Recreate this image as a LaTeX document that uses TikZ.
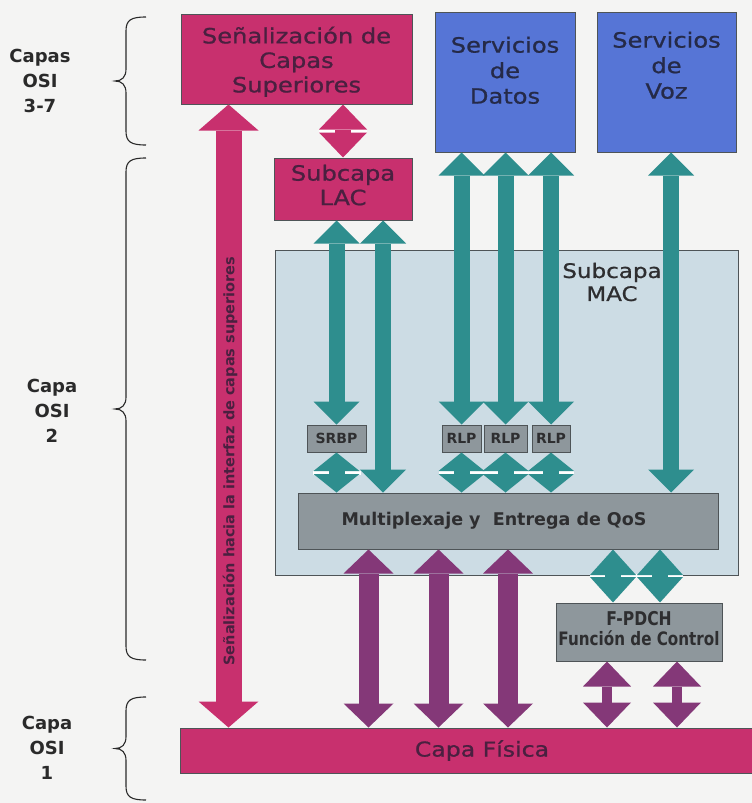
\documentclass[tikz,border=0pt]{standalone}
\usepackage{fontspec}
\setmainfont{DejaVu Sans}
\newfontfamily\condf{DejaVu Sans}[FakeStretch=0.82]
\newfontfamily\widef{DejaVu Sans}[FakeStretch=1.15,FakeBold=0.9]
\usetikzlibrary{arrows.meta,calc}
\definecolor{bg}{HTML}{F4F4F3}
\definecolor{pinkc}{HTML}{C8306E}
\definecolor{bluec}{HTML}{5675D6}
\definecolor{tealc}{HTML}{2E8E8E}
\definecolor{purc}{HTML}{843878}
\definecolor{grayc}{HTML}{8E979C}
\definecolor{macc}{HTML}{CCDCE4}
\definecolor{edgec}{HTML}{4E5457}
\definecolor{pinktxt}{HTML}{4A2040}
\definecolor{bluetxt}{HTML}{252A48}
\definecolor{graytxt}{HTML}{2E2E30}
\definecolor{labtxt}{HTML}{2A2A2A}
\newcommand\upby[2]{\raisebox{#1}[\height][\depth]{\begin{tabular}{@{}c@{}}#2\end{tabular}}}
\newcommand\osibrace[2]{%
  \pgfmathsetmacro\ym{(#1+#2)/2}%
  \draw[bracel] (146,#1) .. controls (131,#1) and (126,#1+3) .. (126,#1+14)
    -- (126,\ym-12) .. controls (126,\ym-4) and (122,\ym) .. (115,\ym)
    .. controls (122,\ym) and (126,\ym+4) .. (126,\ym+12)
    -- (126,#2-14) .. controls (126,#2-3) and (131,#2) .. (146,#2);}
\tikzset{
  box/.style={draw=edgec, line width=1pt, inner sep=0pt, align=center},
  pinkbox/.style={box, fill=pinkc, text=pinktxt, font=\widef\fontsize{21}{24.5}\selectfont},
  bluebox/.style={box, fill=bluec, text=bluetxt, font=\widef\fontsize{21}{25.5}\selectfont},
  graybox/.style={box, fill=grayc, text=graytxt},
  smallbox/.style={graybox, minimum height=27, font=\bfseries\fontsize{14}{16}\selectfont},
  osilab/.style={align=center, text=labtxt, font=\bfseries\fontsize{18}{25}\selectfont},
  bracel/.style={draw=labtxt, line width=1.1pt},
  gapline/.style={draw=white, line width=4pt},
  tarrow/.style={draw=tealc, line width=16pt,
    arrows={Triangle[width=46pt,length=#1,line width=0pt]-Triangle[width=46pt,length=#1,line width=0pt]}},
  tarrow/.default=23pt,
  parrow/.style={draw=purc, line width=20pt,
    arrows={Triangle[width=50pt,length=24pt,line width=0pt]-Triangle[width=50pt,length=24pt,line width=0pt]}},
  psarrow/.style={draw=purc, line width=10pt,
    arrows={Triangle[width=48pt,length=25pt,line width=0pt]-Triangle[width=48pt,length=25pt,line width=0pt]}},
  pkarrow/.style={draw=pinkc, line width=#1,
    arrows={Triangle[width=60pt,length=26pt,line width=0pt]-Triangle[width=60pt,length=26pt,line width=0pt]}},
}
\begin{document}
\begin{tikzpicture}[x=1pt,y=-1pt]
\fill[bg] (0,0) rectangle (752,803);
\useasboundingbox (0,0) rectangle (752,803);

% left labels and braces
\node[osilab] (l1) at (40,81) {Capas\\OSI\\3-7};
\node[osilab] (l2) at (52,411) {Capa\\OSI\\2};
\node[osilab] (l3) at (47,748) {Capa\\OSI\\1};
\osibrace{17}{145}
\osibrace{158}{660}
\osibrace{697}{800}

% MAC sublayer region
\node[box, fill=macc, minimum width=463, minimum height=325] (mac) at (506.5,412.5) {};
\node[text=graytxt, font=\widef\fontsize{20}{23}\selectfont, align=center] (mact) at (612,282) {Subcapa\\MAC};

% boxes
\node[pinkbox, minimum width=231, minimum height=90] (sen) at (296.5,59) {\upby{-4pt}{Señalización de\\Capas\\Superiores}};
\node[bluebox, minimum width=140, minimum height=140] (datos) at (505,82) {\upby{9pt}{Servicios\\de\\Datos}};
\node[bluebox, minimum width=139, minimum height=140] (voz) at (666.5,82) {\upby{14pt}{Servicios\\de\\Voz}};
\node[pinkbox, minimum width=138, minimum height=62] (lac) at (343,189) {\upby{1pt}{Subcapa\\LAC}};
\node[smallbox, minimum width=59] (srbp) at (336.5,438.5) {SRBP};
\node[smallbox, minimum width=39] (rlp1) at (461.5,438.5) {RLP};
\node[smallbox, minimum width=43] (rlp2) at (505.5,438.5) {RLP};
\node[smallbox, minimum width=38] (rlp3) at (551,438.5) {RLP};
\node[graybox, minimum width=420, minimum height=56, font=\bfseries\fontsize{17.5}{20}\selectfont] (mux) at (508,521) {\hspace{-28pt}Multiplexaje y\ \ Entrega de QoS};
\node[graybox, minimum width=166, minimum height=58, font=\bfseries\condf\fontsize{18.5}{17}\selectfont] (fpdch) at (639,632) {\upby{1pt}{{\fontsize{19}{17}\selectfont F-PDCH}\\Función de Control}};
\node[box, fill=pinkc, text=pinktxt, minimum width=572, minimum height=45, font=\widef\fontsize{20.5}{22}\selectfont] (fis) at (466,750.5) {\hspace{32pt}Capa Física};

% helper coordinates
\coordinate (pk) at ([xshift=48pt]sen.south west);
\coordinate (lac2) at ([xshift=40pt]lac.south);
\coordinate (vz) at ([xshift=4.5pt]voz.south);
\coordinate (m1) at ([xshift=-139.5pt]mux.south);
\coordinate (m2) at ([xshift=-69.5pt]mux.south);
\coordinate (m3) at (mux.south);
\coordinate (f1) at ([xshift=-26pt]fpdch.north);
\coordinate (f2) at ([xshift=21pt]fpdch.north);
\coordinate (f3) at ([xshift=-32pt]fpdch.south);
\coordinate (f4) at ([xshift=38pt]fpdch.south);

% white gap lines behind the short double arrows
\draw[gapline] ($(lac.north)!0.5!(lac.north |- sen.south)$) ++(-24,0) -- ++(48,0);
\draw[gapline] ($(srbp.south)!0.5!(srbp.south |- mux.north)$) ++(-24,0) -- ++(48,0);
\draw[gapline] ($(rlp1.south)!0.5!(rlp1.south |- mux.north)$) ++(-23,0) -- ($(rlp3.south)!0.5!(rlp3.south |- mux.north)$) -- ++(23,0);
\draw[gapline] ($(f1)!0.5!(f1 |- mux.south)$) ++(-23,0) -- ($(f2)!0.5!(f2 |- mux.south)$) -- ++(23,0);

% pink arrows
\draw[pkarrow=26pt] (pk) -- (pk |- fis.north);
\draw[draw=pinkc, line width=16pt,
  arrows={Triangle[width=48pt,length=25pt,line width=0pt]-Triangle[width=48pt,length=25pt,line width=0pt]}]
  (lac.north |- sen.south) -- (lac.north);

% teal arrows
\draw[tarrow] (srbp.north |- lac.south) -- (srbp.north);
\draw[tarrow] (lac2) -- (lac2 |- mux.north);
\draw[tarrow] (rlp1.north |- datos.south) -- (rlp1.north);
\draw[tarrow] (rlp2.north |- datos.south) -- (rlp2.north);
\draw[tarrow] (rlp3.north |- datos.south) -- (rlp3.north);
\draw[tarrow] (vz) -- (vz |- mux.north);
\draw[tarrow=18.5pt] (srbp.south) -- (srbp.south |- mux.north);
\draw[tarrow=18.5pt] (rlp1.south) -- (rlp1.south |- mux.north);
\draw[tarrow=18.5pt] (rlp2.south) -- (rlp2.south |- mux.north);
\draw[tarrow=18.5pt] (rlp3.south) -- (rlp3.south |- mux.north);
\draw[tarrow=25.5pt] (f1 |- mux.south) -- (f1);
\draw[tarrow=25.5pt] (f2 |- mux.south) -- (f2);

% purple arrows
\draw[parrow] (m1) -- (m1 |- fis.north);
\draw[parrow] (m2) -- (m2 |- fis.north);
\draw[parrow] (m3) -- (m3 |- fis.north);
\draw[psarrow] (f3) -- (f3 |- fis.north);
\draw[psarrow] (f4) -- (f4 |- fis.north);

% vertical label on the big pink arrow
\node[rotate=90, text=pinktxt, font=\bfseries\fontsize{14.5}{16}\selectfont] (vt) at (230,461) {Señalización hacia la interfaz de capas superiores};
\end{tikzpicture}
\end{document}
